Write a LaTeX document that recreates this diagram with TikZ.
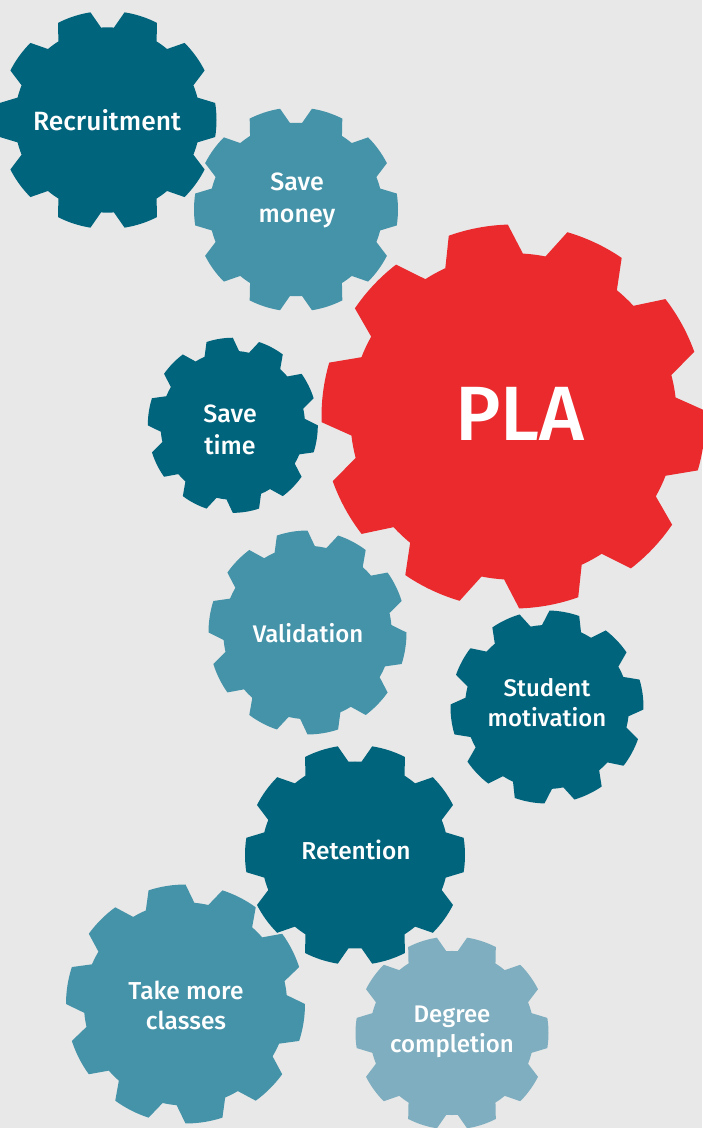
\documentclass[tikz,border=0pt]{standalone}
\usepackage{fontspec}
\setmainfont{Fira Sans Medium}
\definecolor{bgc}{HTML}{E8E8E8}
\definecolor{dark}{HTML}{00647C}
\definecolor{mid}{HTML}{4593A9}
\definecolor{pale}{HTML}{7EAEBF}
\definecolor{redc}{HTML}{EA2A2D}
\tikzset{gearlabel/.style={text=white,font=\fontsize{24.5}{30}\selectfont,align=center,inner sep=0pt}}
\newcommand{\gear}[6][1]{%
  \begin{scope}[shift={(#2,1128-#3)},yscale=#1]
  \fill[#6] ({#5-14}:#4*0.85) \foreach \i [evaluate=\i as \t using #5+36*\i] in {0,...,9}{
     -- ({\t-9}:#4) arc[start angle=\t-9,end angle=\t+9,radius=#4]
     -- ({\t+14}:#4*0.85) arc[start angle=\t+14,end angle=\t+22,radius=#4*0.85]} -- cycle;
  \end{scope}}
\begin{document}
\begin{tikzpicture}[x=1pt,y=1pt]
\useasboundingbox (0,0) rectangle (702,1128);
\fill[bgc] (0,0) rectangle (702,1128);
\gear{107.5}{120}{109}{0}{dark}
\gear{296}{209.5}{102}{0}{mid}
\gear[1.03]{232.8}{425.3}{85}{-9}{dark}
\gear[1.03]{307.5}{632.5}{99}{-9}{mid}
\gear{547}{707}{96.5}{7.5}{dark}
\gear{355}{855}{110}{0}{dark}
\gear{185.5}{1004}{119.5}{-9}{mid}
\gear{452}{1033}{96.5}{0}{pale}
\gear{513.5}{416.5}{192}{-7.3}{redc}
\node[gearlabel,font=\fontsize{26.4}{32}\selectfont] (recruit) at (107,1128-120) {Recruitment};
\node[gearlabel,font=\fontsize{25}{32}\selectfont] (money) at (297,1128-200) {Save\\money};
\node[gearlabel,font=\fontsize{25}{32}\selectfont] (time) at (230,1128-430) {Save\\time};
\node[gearlabel,font=\fontsize{24}{30}\selectfont] (valid) at (308,1128-633) {Validation};
\node[gearlabel,font=\fontsize{24}{30}\selectfont] (motiv) at (547,1128-702.5) {Student\\motivation};
\node[gearlabel] (reten) at (356,1128-850) {Retention};
\node[gearlabel] (classes) at (186,1128-1005) {Take more\\classes};
\node[gearlabel,font=\fontsize{24}{30}\selectfont] (degree) at (452,1128-1031.5) {Degree\\completion};
\node[text=white,font=\fontsize{77}{77}\selectfont,inner sep=0pt] (pla) at (520,1128-414) {PLA};
\end{tikzpicture}
\end{document}
